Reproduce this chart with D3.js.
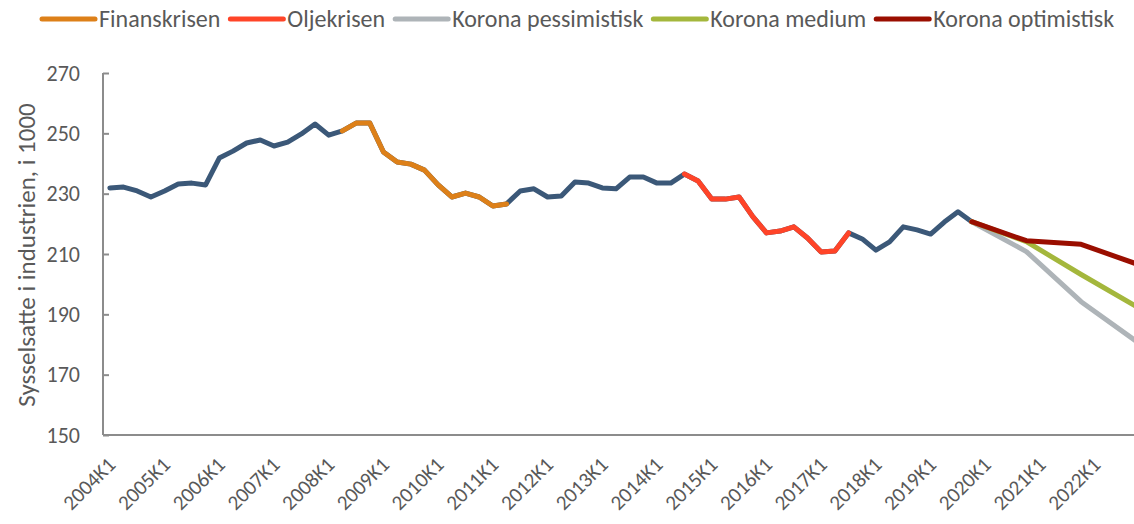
<!DOCTYPE html>
<html lang="no">
<head>
    <meta charset="utf-8" />
    <style>
        body {margin:0; background:#fff;}
        svg {display:block;}
        text {font-family: Carlito, Calibri, "Liberation Sans Narrow", "Open Sans", sans-serif; font-size: 20px; fill: #595959;}
        .line {fill: none; stroke-width: 5px; stroke-linejoin: round; stroke-linecap: round;}
    </style>
    <script src="https://cdn.jsdelivr.net/npm/d3@7"></script>
</head>
<body>
    <svg></svg>
</body>
<script>
    var width = 1134,
        height = 524;

    var years = d3.range(2004, 2023);
    var quarters = [];
    years.forEach(function(y) {
        ["K1", "K2", "K3", "K4"].forEach(function(k) {quarters.push(y + k)})
    })

    // sysselsatte i industrien (1000), 2004K1 - 2019K4
    var actual = [
        231.9, 232.2, 230.9, 228.9, 230.9, 233.2, 233.5, 232.9,
        241.8, 244.1, 246.8, 247.8, 245.8, 247.1, 249.8, 253.1,
        249.4, 250.8, 253.4, 253.4, 243.8, 240.5, 239.8, 237.8,
        232.9, 228.9, 230.2, 228.9, 225.9, 226.6, 230.9, 231.6,
        228.9, 229.2, 233.9, 233.5, 231.9, 231.6, 235.5, 235.5,
        233.5, 233.5, 236.5, 234.2, 228.2, 228.2, 228.9, 222.4,
        217.0, 217.6, 219.0, 215.3, 210.7, 211.0, 217.0, 215.0,
        211.3, 214.0, 219.0, 218.0, 216.6, 220.6, 224.0, 220.7
    ];

    var finanskrisen = ["2008K2", "2011K2"];
    var oljekrisen = ["2014K3", "2017K3"];

    var forecastQuarters = ["2019K4", "2020K4", "2021K4", "2022K4"];
    var pessimistisk = [220.7, 210.8, 194.2, 181.2];
    var medium = [220.7, 214.1, 203.2, 192.7];
    var optimistisk = [220.7, 214.4, 213.2, 206.8];

    var yTicks = [150, 170, 190, 210, 230, 250, 270];
    var xLabels = quarters.filter(function(d, i) {return i % 4 == 0});

    var colors = {
        actual: "#3B5878",
        finans: "#DD8019",
        olje: "#FF4428",
        pess: "#AEB4B8",
        medium: "#A4B73C",
        opt: "#9A0E00"
    };

    var plotLeft = 103, plotTop = 73, plotBottom = 435;

    var x = d3.scaleBand().domain(quarters).range([plotLeft, plotLeft + quarters.length * 13.68]);
    var y = d3.scaleLinear().domain([150, 270]).range([plotBottom, plotTop]);
    function cx(q) {return x(q) + x.bandwidth() / 2}

    var svg = d3.select("svg")
        .attr("width", width)
        .attr("height", height)

    // axes
    var yAxis = svg.append("g")
        .attr("transform", "translate(" + plotLeft + ",0)")
        .call(d3.axisRight(y).tickValues(yTicks).tickSize(6).tickFormat(""))
    yAxis.select(".domain").attr("stroke", "#8c8c8c").attr("stroke-width", 2).attr("d", "M0," + plotTop + "V" + plotBottom)
    yAxis.selectAll(".tick line").attr("stroke", "#8c8c8c").attr("stroke-width", 2)

    svg.append("g").selectAll("text")
        .data(yTicks)
      .enter().append("text")
        .attr("x", 80)
        .attr("y", function(d) {return y(d)})
        .attr("dy", "0.35em")
        .attr("text-anchor", "end")
        .style("font-size", "22px")
        .text(function(d) {return d})

    svg.append("line")
        .attr("x1", plotLeft).attr("x2", width)
        .attr("y1", plotBottom).attr("y2", plotBottom)
        .attr("stroke", "#8c8c8c").attr("stroke-width", 2)

    svg.append("g").selectAll("text")
        .data(xLabels)
      .enter().append("text")
        .attr("text-anchor", "end")
        .style("font-size", "21px")
        .attr("transform", function(d) {return "translate(" + (cx(d) + 7) + "," + 466 + ") rotate(-45)"})
        .text(function(d) {return d})

    svg.append("text")
        .attr("text-anchor", "middle")
        .style("font-size", "25px")
        .attr("transform", "translate(35,255) rotate(-90)")
        .text("Sysselsatte i industrien, i 1000")

    // lines
    var line = d3.line()
        .x(function(d) {return cx(d[0])})
        .y(function(d) {return y(d[1])})

    var actualPts = actual.map(function(v, i) {return [quarters[i], v]});

    function period(p) {
        var a = quarters.indexOf(p[0]), b = quarters.indexOf(p[1]);
        return actualPts.slice(a, b + 1);
    }

    function forecast(vals) {
        return vals.map(function(v, i) {return [forecastQuarters[i], v]});
    }

    var series = [
        {pts: actualPts, color: colors.actual},
        {pts: period(finanskrisen), color: colors.finans},
        {pts: period(oljekrisen), color: colors.olje},
        {pts: forecast(pessimistisk), color: colors.pess},
        {pts: forecast(medium), color: colors.medium},
        {pts: forecast(optimistisk), color: colors.opt}
    ];

    svg.append("g").selectAll("path")
        .data(series)
      .enter().append("path")
        .attr("class", "line")
        .attr("stroke", function(d) {return d.color})
        .attr("d", function(d) {return line(d.pts)})

    // legend
    var legendItems = [
        {name: "Finanskrisen", color: colors.finans},
        {name: "Oljekrisen", color: colors.olje},
        {name: "Korona pessimistisk", color: colors.pess},
        {name: "Korona medium", color: colors.medium},
        {name: "Korona optimistisk", color: colors.opt}
    ];

    var legend = svg.append("g")
    var lx = 42;
    legendItems.forEach(function(d) {
        legend.append("line")
            .attr("x1", lx).attr("x2", lx + 53)
            .attr("y1", 19).attr("y2", 19)
            .attr("stroke", d.color).attr("stroke-width", 5).attr("stroke-linecap", "round")
        var t = legend.append("text")
            .attr("x", lx + 57)
            .attr("y", 19)
            .attr("dy", "0.35em")
            .style("font-size", "24px")
            .text(d.name)
        lx += 57 + t.node().getComputedTextLength() + 10;
    })
</script>
</html>
